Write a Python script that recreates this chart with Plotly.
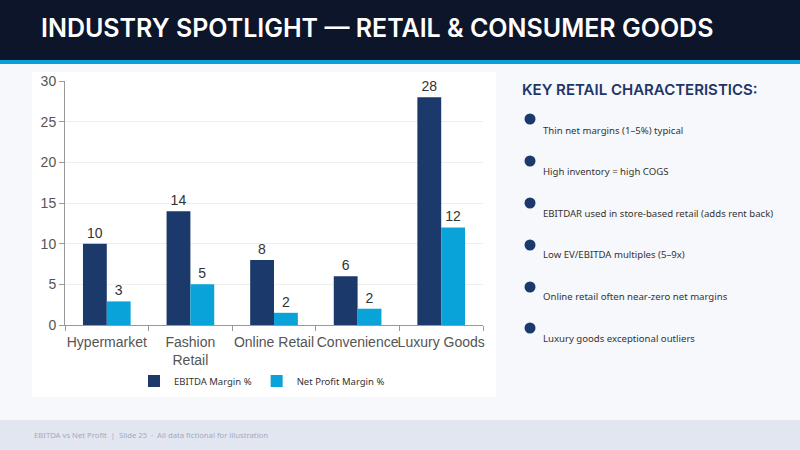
import plotly.graph_objects as go

categories = ["Hypermarket", "Fashion<br>Retail", "Online Retail", "Convenience", "Luxury Goods"]
ebitda_margin = [10, 14, 8, 6, 28]
net_margin = [2.9, 5, 1.5, 2, 12]
y_ticks = [0, 5, 10, 15, 20, 25, 30]

title_text = "INDUSTRY SPOTLIGHT — RETAIL & CONSUMER GOODS"
panel_title = "KEY RETAIL CHARACTERISTICS:"
bullets = [
    "Thin net margins (1–5%) typical",
    "High inventory = high COGS",
    "EBITDAR used in store-based retail (adds rent back)",
    "Low EV/EBITDA multiples (5–9x)",
    "Online retail often near-zero net margins",
    "Luxury goods exceptional outliers",
]
footer_text = "EBITDA vs Net Profit  |  Slide 25  ·  All data fictional for illustration"

W, H = 800, 450
NAVY = "#1b3a6b"
CYAN = "#0aa3d9"

fig = go.Figure()
fig.add_trace(go.Bar(
    x=categories, y=ebitda_margin, name="EBITDA Margin %",
    marker=dict(color=NAVY, line=dict(width=0)),
    text=[f"{v:.0f}" for v in ebitda_margin], textposition="outside",
    textfont=dict(family="Liberation Sans, Arial", size=14, color="#333333"),
    cliponaxis=False,
))
fig.add_trace(go.Bar(
    x=categories, y=net_margin, name="Net Profit Margin %",
    marker=dict(color=CYAN, line=dict(width=0)),
    text=[f"{v:.0f}" for v in net_margin], textposition="outside",
    textfont=dict(family="Liberation Sans, Arial", size=14, color="#333333"),
    cliponaxis=False,
))

def px(x):
    return x / W

def py(y):
    return 1 - y / H

shapes = [
    dict(type="rect", xref="paper", yref="paper", x0=0, x1=1, y0=py(60), y1=1,
         fillcolor="#0c1529", line=dict(width=0), layer="below"),
    dict(type="rect", xref="paper", yref="paper", x0=0, x1=1, y0=py(64), y1=py(60),
         fillcolor="#0a9fd6", line=dict(width=0), layer="below"),
    dict(type="rect", xref="paper", yref="paper", x0=px(32), x1=px(496), y0=py(397), y1=py(72),
         fillcolor="#ffffff", line=dict(width=0), layer="below"),
    dict(type="rect", xref="paper", yref="paper", x0=0, x1=1, y0=0, y1=py(420),
         fillcolor="#e2e6f0", line=dict(width=0), layer="below"),
]

annotations = [
    dict(text=title_text, xref="paper", yref="paper", x=px(39), y=py(28),
         xanchor="left", yanchor="middle", showarrow=False,
         font=dict(family="Inter", size=25, color="#ffffff", weight=600)),
    dict(text=panel_title, xref="paper", yref="paper", x=px(520), y=py(89),
         xanchor="left", yanchor="middle", showarrow=False,
         font=dict(family="Inter", size=15, color="#1f3567", weight=600)),
    dict(text=footer_text, xref="paper", yref="paper", x=px(32), y=py(435),
         xanchor="left", yanchor="middle", showarrow=False,
         font=dict(family="Noto Sans", size=7.7, color="#a3aabb")),
]

dot_y = [119, 161, 203, 245, 287, 328]
txt_y = [130, 171, 213, 254, 296, 338]
for i, b in enumerate(bullets):
    shapes.append(dict(type="circle", xref="paper", yref="paper",
                       x0=px(524.5), x1=px(535.5), y0=py(dot_y[i] + 5.5), y1=py(dot_y[i] - 5.5),
                       fillcolor="#1b3a6b", line=dict(width=0)))
    annotations.append(dict(text=b, xref="paper", yref="paper", x=px(541), y=py(txt_y[i]),
                            xanchor="left", yanchor="middle", showarrow=False,
                            font=dict(family="Noto Sans", size=9.6, color="#333333")))

fig.update_layout(
    width=W, height=H, autosize=False,
    margin=dict(l=0, r=0, t=0, b=0, pad=0, autoexpand=False),
    paper_bgcolor="#f7f8fc", plot_bgcolor="#ffffff",
    barmode="group", bargap=0.43, bargroupgap=0,
    showlegend=True,
    legend=dict(orientation="h", x=px(262), y=py(381), xanchor="center", yanchor="middle",
                font=dict(family="Noto Sans", size=9.5, color="#333333"),
                bgcolor="rgba(0,0,0,0)", itemwidth=30, itemsizing="constant"),
    shapes=shapes, annotations=annotations,
    xaxis=dict(domain=[px(65), px(483)], showline=True, linecolor="#999999", linewidth=1,
               ticks="outside", tickson="boundaries", ticklen=5, tickcolor="#999999",
               tickangle=0, ticklabelstandoff=4,
               tickfont=dict(family="Liberation Sans, Arial", size=14, color="#555555"),
               showgrid=False, fixedrange=True),
    yaxis=dict(domain=[py(325), py(81)], range=[0, 30], tickvals=y_ticks,
               showline=True, linecolor="#999999", linewidth=1,
               ticks="outside", ticklen=5, tickcolor="#999999",
               showgrid=True, gridcolor="#eeeeee", gridwidth=1, zeroline=False,
               tickfont=dict(family="Liberation Sans, Arial", size=14, color="#555555"),
               fixedrange=True),
)

post = """
document.documentElement.style.margin = '0';
document.body.style.margin = '0';
document.body.style.overflow = 'hidden';
"""

fig.write_html(
    "out.html",
    config={"displayModeBar": False},
    post_script=post,
)
